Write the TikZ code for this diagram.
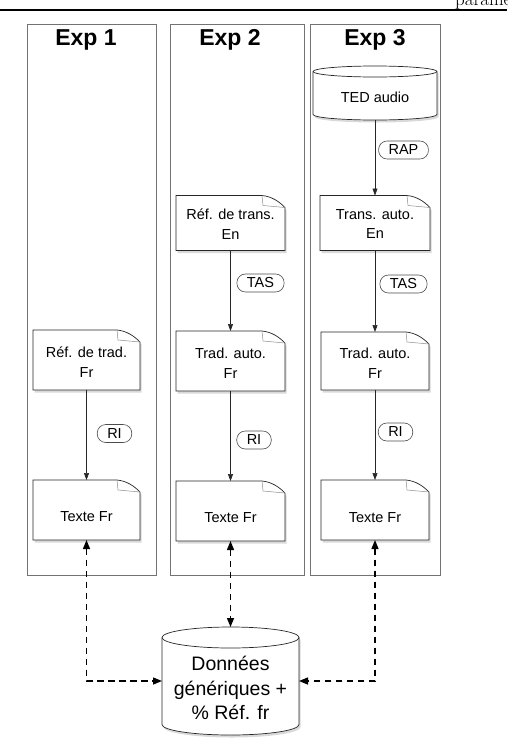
\documentclass[tikz,border=0pt]{standalone}
\usepackage{fontspec}
\newfontfamily\lsans{Liberation Sans}
\usetikzlibrary{arrows.meta,shadows,calc}
\tikzset{
  frame/.style={draw=black!55, line width=0.8pt, inner sep=0pt},
  titletxt/.style={font=\lsans\fontsize{23}{27}\selectfont\bfseries},
  docbox/.style={inner sep=0pt, outer sep=0pt},
  txt/.style={font=\lsans\fontsize{14.5}{19.5}\selectfont, align=center, inner sep=0pt},
  bigtxt/.style={font=\lsans\fontsize{19.5}{24.5}\selectfont, align=center, inner sep=0pt},
  pill/.style={draw=black!70, line width=0.6pt, rounded corners=8.5pt, minimum height=18pt,
    inner xsep=10pt, inner ysep=0pt, font=\lsans\fontsize{14.5}{17}\selectfont, fill=white},
  flow/.style={-{Triangle[length=7pt,width=5pt]}, draw=black!85, line width=0.6pt},
  dashflow/.style={{Triangle[length=9pt,width=7pt]}-{Triangle[length=9pt,width=7pt]},
    dash pattern=on 6.5pt off 4.5pt, line width=1.4pt},
  shapeline/.style={draw=black!85, line width=0.7pt, fill=white,
    drop shadow={opacity=0.3, shadow xshift=1.5pt, shadow yshift=-2.5pt}},
  foldline/.style={draw=black!45, line width=0.5pt},
}
\newcommand\docshape[1]{%
  \path[shapeline] (#1.north west) -- ([xshift=-23pt]#1.north east)
    .. controls +(10pt,-1pt) and +(-6pt,6pt) .. ([yshift=-12pt]#1.north east)
    -- (#1.south east) -- (#1.south west) -- cycle;
  \draw[foldline] ([xshift=-23pt]#1.north east) -- ([xshift=-22pt,yshift=-10pt]#1.north east)
    -- ([yshift=-12pt]#1.north east);
}
\newcommand\docnode[6]{%
  \node[docbox, minimum width=#3, minimum height=#4] (#2) at (#1) {};
  \docshape{#2}
  \node[txt] (#2-t) at ([yshift=-#5]#2.center) {#6};
}
\newcommand\cylshape[3]{% name, ry, rx
  \path[shapeline] ([yshift=-#2]#1.north west) -- ([yshift=#2]#1.south west)
    arc[start angle=180, end angle=360, x radius=#3, y radius=#2]
    -- ([yshift=-#2]#1.north east)
    arc[start angle=0, end angle=180, x radius=#3, y radius=#2] -- cycle;
  \draw[black!85, line width=0.7pt] ([yshift=-#2]#1.north west)
    arc[start angle=180, end angle=360, x radius=#3, y radius=#2];
}
\begin{document}
\begin{tikzpicture}[x=1pt,y=1pt]
\useasboundingbox (0,0) rectangle (507,-750);
\clip (0,0) rectangle (507,-750);
% page header
\node[anchor=base west, font=\fontsize{19}{21}\selectfont, inner sep=0pt] (hdr) at (455,-5) {paramètres};
\draw[line width=1.2pt] (0,-10) -- (507,-10);
% experiment frames
\node[frame, minimum width=129pt, minimum height=551pt] (exp1) at (91.5,-299.5) {};
\node[frame, minimum width=134pt, minimum height=551pt] (exp2) at (237,-299.5) {};
\node[frame, minimum width=130pt, minimum height=551pt] (exp3) at (375,-299.5) {};
\node[titletxt] (t1) at (86,-40) {Exp 1};
\node[titletxt] (t2) at (230,-40) {Exp 2};
\node[titletxt] (t3) at (375,-40) {Exp 3};
% Exp 1
\docnode{86.5,-360}{refTrad}{107pt}{60pt}{2pt}{Réf. de trad.\\Fr}
\docnode{86.5,-510}{texte1}{107pt}{60pt}{7pt}{Texte Fr}
% Exp 2
\docnode{230.5,-223}{refTrans}{109pt}{55pt}{1pt}{Réf. de trans.\\En}
\docnode{230.5,-361}{tradAuto2}{109pt}{60pt}{2pt}{Trad. auto.\\Fr}
\docnode{230.5,-511}{texte2}{109pt}{60pt}{7pt}{Texte Fr}
% Exp 3
\node[docbox, minimum width=124pt, minimum height=54pt] (ted) at (375,-93) {};
\cylshape{ted}{5.5pt}{62pt}
\node[txt] (ted-t) at (375,-97) {TED audio};
\docnode{375,-223}{transAuto}{110pt}{55pt}{1pt}{Trans. auto.\\En}
\docnode{375,-361}{tradAuto3}{108pt}{58pt}{2pt}{Trad. auto.\\Fr}
\docnode{375,-510}{texte3}{108pt}{60pt}{8pt}{Texte Fr}
% database
\node[docbox, minimum width=137pt, minimum height=108pt] (db) at (230.5,-681) {};
\cylshape{db}{10.5pt}{68.5pt}
\node[bigtxt] (db-t) at (230.5,-688) {Données\\génériques +\\\% Réf. fr};
% solid flows
\draw[flow] (refTrad.south) -- (texte1.north);
\draw[flow] (refTrans.south) -- (tradAuto2.north);
\draw[flow] (tradAuto2.south) -- (texte2.north);
\draw[flow] (ted.south) -- (transAuto.north);
\draw[flow] (transAuto.south) -- (tradAuto3.north);
\draw[flow] (tradAuto3.south) -- (texte3.north);
% labels
\node[pill] (rap) at (403.5,-150) {RAP};
\node[pill] (tas2) at (260.5,-283) {TAS};
\node[pill] (tas3) at (403.5,-284) {TAS};
\node[pill] (ri1) at (114.5,-433.5) {RI};
\node[pill] (ri2) at (254,-440) {RI};
\node[pill] (ri3) at (395.5,-432) {RI};
% dashed flows
\draw[dashflow] (texte1.south) |- (db.west);
\draw[dashflow] (texte2.south) -- (db.north);
\draw[dashflow] (texte3.south) |- (db.east);
\end{tikzpicture}
\end{document}
